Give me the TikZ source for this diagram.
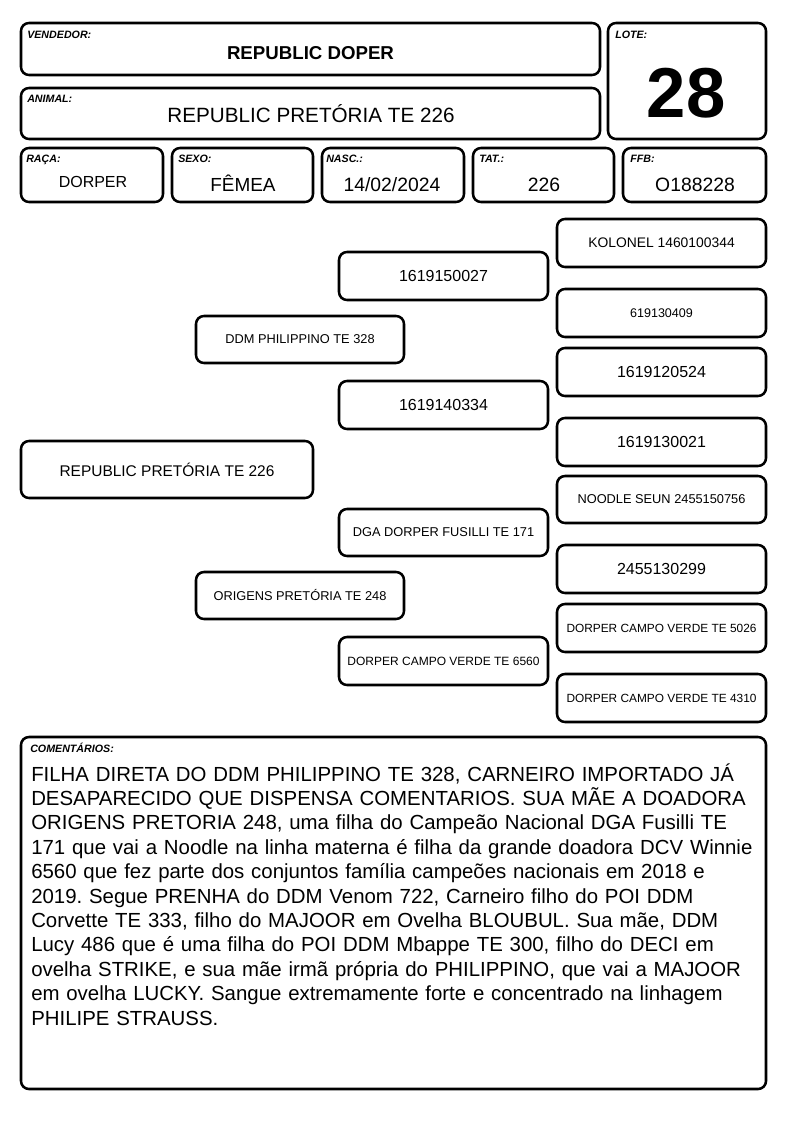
\documentclass[tikz,border=0pt]{standalone}
\usepackage{fontspec}
\setmainfont{Liberation Sans}
\frenchspacing
\tikzset{
  x=0.75pt, y=-0.75pt,
  frame/.style={draw=black, line width=1.9pt, rounded corners=6pt, inner sep=0pt, align=center},
  lbl/.style={anchor=base west, inner sep=0pt, font=\fontsize{8}{9}\selectfont\bfseries\itshape},
  val/.style={anchor=base, inner sep=0pt},
}
\newcommand\mkbox[6]{\node[frame, minimum width={(#4-#2)*0.75pt}, minimum height={(#5-#3)*0.75pt}, font=\fontsize{#6}{#6}\selectfont] (#1) at ({(#2+#4)/2},{(#3+#5)/2})}
\begin{document}
\begin{tikzpicture}
\useasboundingbox[fill=white] (0,0) rectangle (794,1123);
% header boxes
\mkbox{vend}{21}{23}{600}{75}{10}{};
\mkbox{anim}{21}{88}{600}{139}{10}{};
\mkbox{lote}{608}{23}{766}{139}{10}{};
\mkbox{raca}{21}{148}{163}{202}{10}{};
\mkbox{sexo}{172}{148}{313}{202}{10}{};
\mkbox{nasc}{322}{148}{464}{202}{10}{};
\mkbox{tat}{473}{148}{614}{202}{10}{};
\mkbox{ffb}{623}{148}{766}{202}{10}{};
% labels
\node[lbl] (lvend) at (27,39) {VENDEDOR:};
\node[lbl] (lanim) at (27,103) {ANIMAL:};
\node[lbl] (llote) at (615,39) {LOTE:};
\node[lbl] (lraca) at (26,163) {RAÇA:};
\node[lbl] (lsexo) at (178,163) {SEXO:};
\node[lbl] (lnasc) at (326,163) {NASC.:};
\node[lbl] (ltat) at (479,163) {TAT.:};
\node[lbl] (lffb) at (630,163) {FFB:};
% values
\node[val, font=\fontsize{14}{14}\selectfont\bfseries] (vvend) at (310.5,60) {REPUBLIC DOPER};
\node[val, font=\fontsize{15.5}{15.5}\selectfont] (vanim) at (311,123) {REPUBLIC PRETÓRIA TE 226};
\node[val, font=\fontsize{53}{53}\selectfont\bfseries] (vlote) at (686,118) {28};
\node[val, font=\fontsize{12}{12}\selectfont] (vraca) at (93,188) {DORPER};
\node[val, font=\fontsize{14.2}{14.2}\selectfont] (vsexo) at (243,192) {FÊMEA};
\node[val, font=\fontsize{14.5}{14.5}\selectfont] (vnasc) at (392,192) {14/02/2024};
\node[val, font=\fontsize{14.5}{14.5}\selectfont] (vtat) at (544,192) {226};
\node[val, font=\fontsize{14.5}{14.5}\selectfont] (vffb) at (695,192) {O188228};
% pedigree
\mkbox{animal}{21}{441}{313}{498}{11.6}{REPUBLIC PRETÓRIA TE 226};
\mkbox{pai}{196}{316}{404}{363}{9.6}{DDM PHILIPPINO TE 328};
\mkbox{mae}{196}{572}{404}{619}{9.6}{ORIGENS PRETÓRIA TE 248};
\mkbox{pp}{339}{252}{548}{300}{12}{1619150027};
\mkbox{pm}{339}{381}{548}{429}{12}{1619140334};
\mkbox{mp}{339}{509}{548}{556}{9.6}{DGA DORPER FUSILLI TE 171};
\mkbox{mm}{339}{637}{548}{685}{9}{DORPER CAMPO VERDE TE 6560};
\mkbox{ppp}{557}{219}{766}{267}{10.4}{KOLONEL 1460100344};
\mkbox{ppm}{557}{289}{766}{337}{9.4}{619130409};
\mkbox{pmp}{557}{348}{766}{396}{12}{1619120524};
\mkbox{pmm}{557}{418}{766}{466}{12}{1619130021};
\mkbox{mpp}{557}{476}{766}{523}{9.6}{NOODLE SEUN 2455150756};
\mkbox{mpm}{557}{545}{766}{593}{12}{2455130299};
\mkbox{mmp}{557}{604}{766}{652}{8.9}{DORPER CAMPO VERDE TE 5026};
\mkbox{mmm}{557}{674}{766}{722}{8.9}{DORPER CAMPO VERDE TE 4310};
% comments
\mkbox{coment}{21}{737}{766}{1089}{10}{};
\node[lbl] (lcom) at (30,752) {COMENTÁRIOS:};
\node[anchor=base west, inner sep=0pt, text width=555pt, align=left, font=\fontsize{15.3}{18.3}\selectfont] (ctext) at (31,781) {FILHA DIRETA DO DDM PHILIPPINO TE 328, CARNEIRO IMPORTADO JÁ\\
DESAPARECIDO QUE DISPENSA COMENTARIOS. SUA MÃE A DOADORA\\
ORIGENS PRETORIA 248, uma filha do Campeão Nacional DGA Fusilli TE\\
171 que vai a Noodle na linha materna é filha da grande doadora DCV Winnie\\
6560 que fez parte dos conjuntos família campeões nacionais em 2018 e\\
2019. Segue PRENHA do DDM Venom 722, Carneiro filho do POI DDM\\
Corvette TE 333, filho do MAJOOR em Ovelha BLOUBUL. Sua mãe, DDM\\
Lucy 486 que é uma filha do POI DDM Mbappe TE 300, filho do DECI em\\
ovelha STRIKE, e sua mãe irmã própria do PHILIPPINO, que vai a MAJOOR\\
em ovelha LUCKY. Sangue extremamente forte e concentrado na linhagem\\
PHILIPE STRAUSS.};
\end{tikzpicture}
\end{document}
